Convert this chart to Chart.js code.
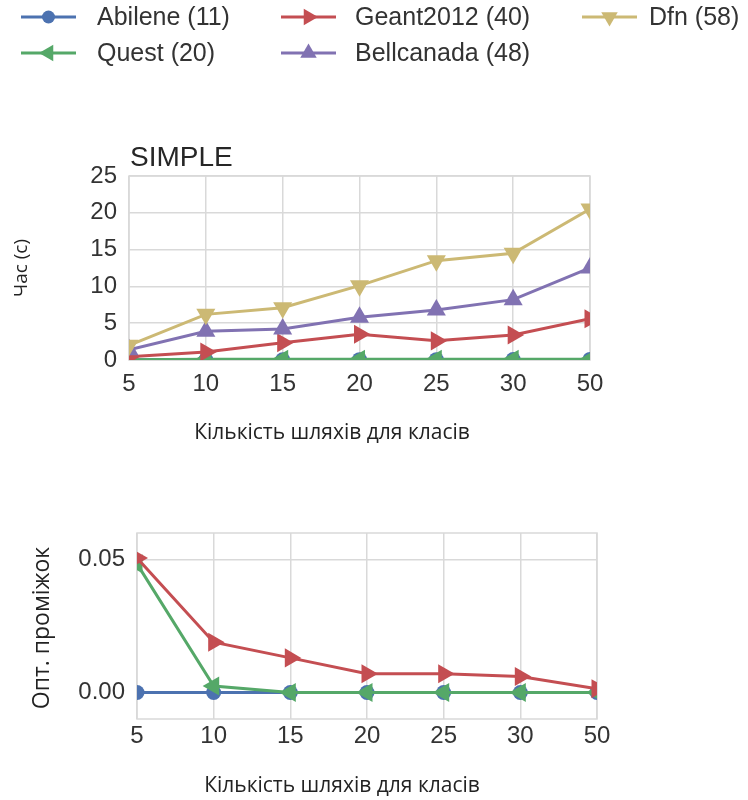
<!DOCTYPE html>
<html>
<head>
<meta charset="utf-8">
<script src="https://cdn.jsdelivr.net/npm/chart.js@4.4.0/dist/chart.umd.min.js"></script>
<style>
html, body { margin: 0; padding: 0; background: #fff; }
#top { position: absolute; left: 0; top: 0; width: 748px; height: 450px; }
#bot { position: absolute; left: 0; top: 450px; width: 748px; height: 350px; }
</style>
</head>
<body>
<div id="top"><canvas id="c1"></canvas></div>
<div id="bot"><canvas id="c2"></canvas></div>
<script>
// number of paths per class (x axis)
const paths = ['5', '10', '15', '20', '25', '30', '50'];
const names = ['Abilene (11)', 'Quest (20)', 'Geant2012 (40)', 'Bellcanada (48)', 'Dfn (58)'];
const colors = ['#4c72b0', '#55a868', '#c44e52', '#8172b2', '#ccb974'];
const markers = ['circle', 'triangle', 'triangle', 'triangle', 'triangle'];
const turns = [0, 270, 90, 0, 180];

// time (s)
const timeAbilene = [0.02, 0.03, 0.04, 0.05, 0.05, 0.06, 0.08];
const timeQuest = [0.05, 0.1, 0.1, 0.1, 0.1, 0.1, 0.1];
const timeGeant = [0.45, 1.1, 2.35, 3.5, 2.6, 3.4, 5.6];
const timeBell = [1.4, 3.9, 4.2, 5.8, 6.8, 8.2, 12.5];
const timeDfn = [2.0, 6.2, 7.1, 10.1, 13.5, 14.5, 20.5];
const timeTicks = [0, 5, 10, 15, 20, 25];

// optimality gap
const gapAbilene = [0, 0, 0, 0, 0, 0, 0];
const gapQuest = [0.0484, 0.0024, 0, 0, 0, 0, 0];
const gapGeant = [0.0506, 0.0189, 0.013, 0.007, 0.007, 0.006, 0.0014];
const gapTicks = [0, 0.05];

const gridColor = '#d9d9d9';
const textColor = '#333';
const tickFont = { family: "'Liberation Sans', Arial, sans-serif", size: 24 };

function ds(i, data) {
    return {
        label: names[i],
        data: data,
        borderColor: colors[i],
        backgroundColor: colors[i],
        borderWidth: 3,
        pointStyle: markers[i],
        pointRotation: turns[i],
        pointRadius: markers[i] == 'circle' ? 7.5 : 11,
        pointBorderWidth: 0,
        clip: 0,
        order: -i
    };
}

const frame = {
    id: 'frame',
    beforeDatasetsDraw(chart) {
        const a = chart.chartArea, ctx = chart.ctx;
        ctx.save();
        ctx.strokeStyle = gridColor;
        ctx.lineWidth = 1.5;
        ctx.strokeRect(a.left, a.top, a.right - a.left, a.bottom - a.top);
        ctx.restore();
    }
};

const texts = {
    id: 'texts',
    afterDraw(chart, args, o) {
        const ctx = chart.ctx;
        ctx.save();
        if (o.title) {
            ctx.font = "28px 'Liberation Sans', Arial, sans-serif";
            ctx.fillStyle = '#262626';
            ctx.textAlign = 'left';
            ctx.textBaseline = 'alphabetic';
            ctx.fillText(o.title, chart.chartArea.left + 1, o.titleY);
        }
        ctx.fillStyle = '#222';
        ctx.font = "21px 'Open Sans', sans-serif";
        ctx.textAlign = 'center';
        ctx.textBaseline = 'middle';
        ctx.fillText(o.xTitle, o.xTitleX, o.xTitleY);
        ctx.font = o.yTitleSize + "px 'Open Sans', sans-serif";
        ctx.translate(o.yTitleX, o.yTitleY);
        ctx.rotate(-Math.PI / 2);
        ctx.fillText(o.yTitle, 0, 0);
        ctx.restore();
    }
};

// legend in 3 columns, column-major like matplotlib
const legendGrid = {
    id: 'legendGrid',
    afterDraw(chart) {
        const ctx = chart.ctx;
        const colLine = [21, 281, 582];
        const colText = [97, 355, 649];
        const rowY = [17, 53];
        chart.data.datasets.forEach((d, i) => {
            const col = Math.floor(i / 2), row = i % 2;
            const y = rowY[row];
            ctx.save();
            ctx.strokeStyle = d.borderColor;
            ctx.fillStyle = d.backgroundColor;
            ctx.lineWidth = 3;
            ctx.beginPath();
            ctx.moveTo(colLine[col], y);
            ctx.lineTo(colLine[col] + 55, y);
            ctx.stroke();
            Chart.helpers.drawPoint(ctx, {
                pointStyle: d.pointStyle,
                rotation: d.pointRotation,
                radius: d.pointStyle == 'circle' ? 6.5 : 9.5,
                borderWidth: 0
            }, colLine[col] + 27.5, y);
            ctx.fillStyle = textColor;
            ctx.font = "25px 'Liberation Sans', Arial, sans-serif";
            ctx.textAlign = 'left';
            ctx.textBaseline = 'middle';
            ctx.fillText(d.label, colText[col], y + 1);
            ctx.restore();
        });
    }
};

new Chart(document.getElementById('c1'), {
    type: 'line',
    data: {
        labels: paths,
        datasets: [ds(0, timeAbilene), ds(1, timeQuest), ds(2, timeGeant), ds(3, timeBell), ds(4, timeDfn)]
    },
    options: {
        responsive: true,
        maintainAspectRatio: false,
        animation: false,
        layout: { padding: { left: 0, right: 158, top: 176, bottom: 30 } },
        plugins: {
            legend: { display: false },
            tooltip: { enabled: false },
            texts: {
                title: 'SIMPLE', titleY: 166,
                xTitle: 'Кількість шляхів для класів', xTitleX: 332, xTitleY: 433,
                yTitle: 'Час (с)', yTitleX: 22, yTitleY: 268, yTitleSize: 19
            }
        },
        scales: {
            x: {
                offset: false,
                grid: { color: gridColor, lineWidth: 1.5, drawTicks: false },
                border: { display: false },
                ticks: { color: textColor, font: tickFont, padding: 10, maxRotation: 0 },
                afterFit(s) { s.height = 60; }
            },
            y: {
                min: 0, max: 25,
                grid: { color: gridColor, lineWidth: 1.5, drawTicks: false },
                border: { display: false },
                ticks: { color: textColor, font: tickFont, padding: 12 },
                afterBuildTicks(s) { s.ticks = timeTicks.map(v => ({ value: v })); },
                afterFit(s) { s.width = 129; }
            }
        }
    },
    plugins: [frame, texts, legendGrid]
});

new Chart(document.getElementById('c2'), {
    type: 'line',
    data: {
        labels: paths,
        datasets: [ds(0, gapAbilene), ds(1, gapQuest), ds(2, gapGeant)]
    },
    options: {
        responsive: true,
        maintainAspectRatio: false,
        animation: false,
        layout: { padding: { left: 0, right: 151, top: 83, bottom: 31 } },
        plugins: {
            legend: { display: false },
            tooltip: { enabled: false },
            texts: {
                xTitle: 'Кількість шляхів для класів', xTitleX: 342, xTitleY: 336,
                yTitle: 'Опт. проміжок', yTitleX: 42, yTitleY: 178, yTitleSize: 23
            }
        },
        scales: {
            x: {
                offset: false,
                grid: { color: gridColor, lineWidth: 1.5, drawTicks: false },
                border: { display: false },
                ticks: { color: textColor, font: tickFont, padding: 3, maxRotation: 0 },
                afterFit(s) { s.height = 50; }
            },
            y: {
                min: -0.01, max: 0.06,
                grid: { color: gridColor, lineWidth: 1.5, drawTicks: false },
                border: { display: false },
                ticks: { color: textColor, font: tickFont, padding: 12, callback: v => v.toFixed(2) },
                afterBuildTicks(s) { s.ticks = gapTicks.map(v => ({ value: v })); },
                afterFit(s) { s.width = 137; }
            }
        }
    },
    plugins: [frame, texts]
});
</script>
</body>
</html>
